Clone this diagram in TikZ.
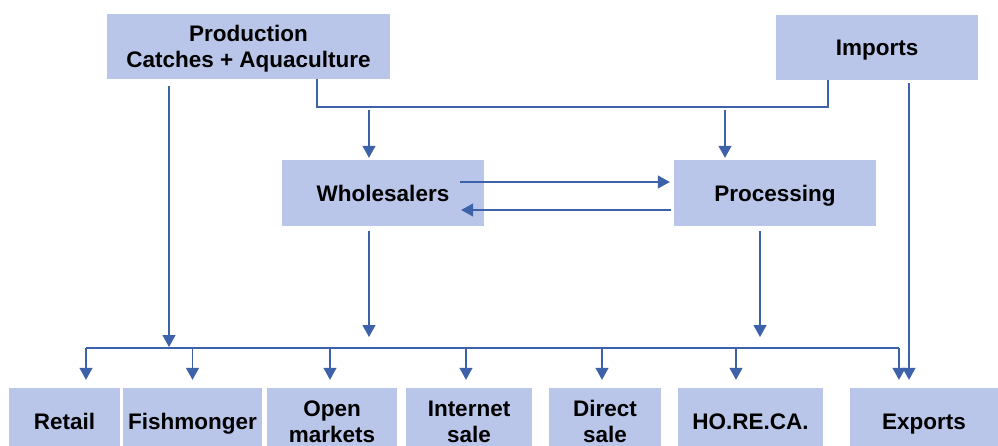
\documentclass[tikz,border=0pt]{standalone}
\usepackage{fontspec}
\setmainfont{Liberation Sans}
\usetikzlibrary{arrows.meta,calc}
\definecolor{boxfill}{RGB}{185,198,233}
\definecolor{linecol}{RGB}{62,98,170}
\tikzset{
  box/.style={fill=boxfill,draw=none,inner sep=0pt,align=center,text depth=0pt,
    font=\fontsize{22.5}{26}\selectfont\bfseries,text=black},
  conn/.style={draw=linecol,line width=1.2pt},
  arr/.style={conn,-{Triangle[width=13pt,length=12pt]}}
}
\begin{document}
\begin{tikzpicture}[x=1pt,y=-1pt]
\useasboundingbox (0,0) rectangle (998,445);
\clip (0,0) rectangle (998,445);
% boxes
\node[box,minimum width=283pt,minimum height=65pt] (prod) at (248.5,46.5) {Production\\Catches + Aquaculture};
\node[box,minimum width=202pt,minimum height=65pt] (imp) at (877,47.5) {Imports};
\node[box,minimum width=202pt,minimum height=66pt] (whole) at (383,193) {Wholesalers};
\node[box,minimum width=202pt,minimum height=66pt] (proc) at (775,193) {Processing};
\node[box,minimum width=111pt,minimum height=67pt] (retail) at (64.5,421.5) {Retail};
\node[box,minimum width=139pt,minimum height=67pt] (fish) at (192.5,421.5) {Fishmonger};
\node[box,minimum width=130pt,minimum height=67pt] (open) at (332,421.5) {Open\\markets};
\node[box,minimum width=126pt,minimum height=67pt] (inet) at (469,421.5) {Internet\\sale};
\node[box,minimum width=112pt,minimum height=67pt] (direct) at (605,421.5) {Direct\\sale};
\node[box,minimum width=145pt,minimum height=67pt] (horeca) at (750.5,421.5) {HO.RE.CA.};
\node[box,minimum width=148pt,minimum height=67pt] (exp) at (924,421.5) {Exports};
% coordinates
\coordinate (mL) at (317,107);
\coordinate (mR) at (828,107);
\coordinate (w1) at (369,110);
\coordinate (p1) at (725,110);
\coordinate (busL) at (86,348);
\coordinate (busR) at (899,348);
\coordinate (pl) at (169,86);
\coordinate (wf) at (460,182);
\coordinate (pb) at (671,210);
\coordinate (wd) at (369,231);
\coordinate (pd) at (760,231);
\coordinate (id) at (909,83);
% top merge
\draw[conn] (prod.south -| mL) -- (mL) -- (mR) -- (imp.south -| mR);
\draw[arr] (w1) -- ([yshift=2pt]whole.north -| w1);
\draw[arr] (p1) -- ([yshift=2pt]proc.north -| p1);
% between wholesalers and processing
\draw[arr] (wf) -- ([xshift=-4pt]proc.west |- wf);
\draw[arr] (pb) -- (whole.east |- pb) -- ++(-23,0);
% down to bus
\draw[arr] (pl) -- ($(busL -| pl)+(0,-1)$);
\draw[arr] (wd) -- (369,337);
\draw[arr] (pd) -- (760,337);
% bus
\draw[conn] (busL) -- (busR);
\draw[arr] (busL) -- ([yshift=8pt]retail.north -| busL);
\draw[arr] (busL -| fish) -- ([yshift=8pt]fish.north);
\draw[arr] (busL -| 330,0) -- ([yshift=8pt]open.north -| 330,0);
\draw[arr] (busL -| 466,0) -- ([yshift=8pt]inet.north -| 466,0);
\draw[arr] (busL -| 602,0) -- ([yshift=8pt]direct.north -| 602,0);
\draw[arr] (busL -| 736,0) -- ([yshift=8pt]horeca.north -| 736,0);
\draw[arr] (busR) -- ([yshift=8pt]exp.north -| busR);
\draw[arr] (id) -- ([yshift=8pt]exp.north -| id);
\end{tikzpicture}
\end{document}
